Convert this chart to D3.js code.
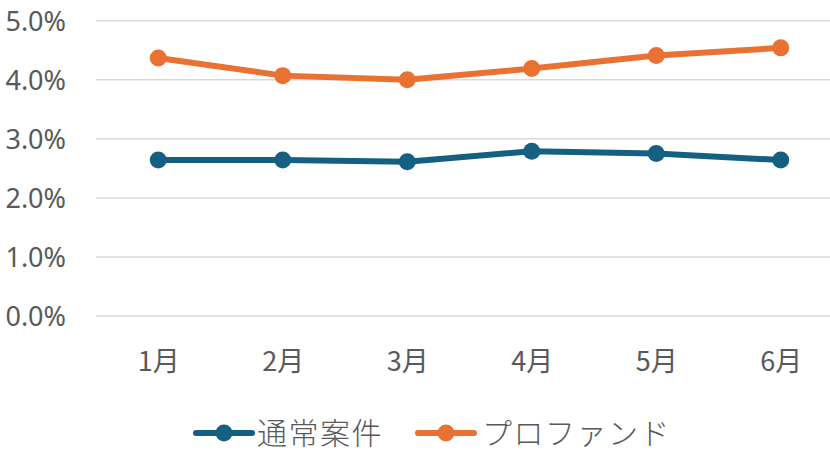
<!DOCTYPE html>
<html>
<head>
<meta charset="utf-8">
<script src="https://cdn.jsdelivr.net/npm/d3@7"></script>
<style>
  html, body { margin: 0; padding: 0; background: #fff; }
  svg { display: block; }
</style>
</head>
<body>
<svg id="chart" width="830" height="454"></svg>
<script>
const months = ["1月", "2月", "3月", "4月", "5月", "6月"];
const seriesNames = ["通常案件", "プロファンド"];
const normalValues = [0.0264, 0.0264, 0.0261, 0.0279, 0.0275, 0.0264];
const profundValues = [0.0437, 0.0407, 0.0400, 0.0419, 0.0441, 0.0454];
const yTicks = [0, 0.01, 0.02, 0.03, 0.04, 0.05];
const colors = ["#156082", "#E97132"];

const svg = d3.select("#chart");
const labelColor = "#595959";
const latinFont = "'Noto Sans', 'Open Sans', sans-serif";
const cjkFont = "'Noto Sans CJK JP', sans-serif";

const x = d3.scaleBand().domain(months).range([96, 843]).padding(0);
const cx = d => x(d) + x.bandwidth() / 2;
const y = d3.scaleLinear().domain([0, 0.05]).range([316, 20.7]);

// gridlines
svg.append("g").selectAll("line").data(yTicks).join("line")
  .attr("x1", 96).attr("x2", 830)
  .attr("y1", d => y(d)).attr("y2", d => y(d))
  .attr("stroke", "#d9d9d9").attr("stroke-width", 1.5);

// y axis labels
const yAxis = d3.axisLeft(y).tickValues(yTicks).tickFormat(d3.format(".1%")).tickSize(0).tickPadding(0);
const yg = svg.append("g").attr("transform", "translate(66,0)").call(yAxis);
yg.select(".domain").remove();
yg.selectAll("text")
  .attr("fill", labelColor)
  .style("font-family", latinFont)
  .style("font-size", "27px")
  .attr("dy", "0.35em");

// x axis labels
const xAxis = d3.axisBottom(d3.scalePoint().domain(months).range([cx(months[0]), cx(months[months.length-1])])).tickSize(0).tickPadding(0);
const xg = svg.append("g").attr("transform", "translate(0,362)").call(xAxis);
xg.select(".domain").remove();
xg.selectAll("text")
  .attr("fill", labelColor)
  .attr("dy", "0.35em")
  .style("font-family", cjkFont)
  .style("font-size", "27px");

const series = [
  { name: seriesNames[0], values: normalValues, color: colors[0] },
  { name: seriesNames[1], values: profundValues, color: colors[1] }
];

const line = d3.line().x((d, i) => cx(months[i])).y(d => y(d));

series.forEach(s => {
  svg.append("path")
    .datum(s.values)
    .attr("d", line)
    .attr("fill", "none")
    .attr("stroke", s.color)
    .attr("stroke-width", 6)
    .attr("stroke-linejoin", "round");
  svg.append("g").selectAll("circle").data(s.values).join("circle")
    .attr("cx", (d, i) => cx(months[i]))
    .attr("cy", d => y(d))
    .attr("r", 8.5)
    .attr("fill", s.color);
});

// legend
const legendY = 433;
const legendItems = [
  { x0: 196, text: 257 },
  { x0: 418, text: 482 }
];
series.forEach((s, i) => {
  const g = svg.append("g");
  const li = legendItems[i];
  g.append("line")
    .attr("x1", li.x0).attr("x2", li.x0 + 56)
    .attr("y1", legendY).attr("y2", legendY)
    .attr("stroke", s.color).attr("stroke-width", 6).attr("stroke-linecap", "round");
  g.append("circle")
    .attr("cx", li.x0 + 28).attr("cy", legendY).attr("r", 8.5).attr("fill", s.color);
  g.append("text")
    .attr("x", li.text).attr("y", legendY)
    .attr("dy", "0.35em")
    .attr("fill", labelColor)
    .style("font-family", cjkFont)
    .style("font-size", "30px")
    .style("font-weight", 300)
    .style("letter-spacing", "1.5px")
    .text(s.name);
});
</script>
</body>
</html>
